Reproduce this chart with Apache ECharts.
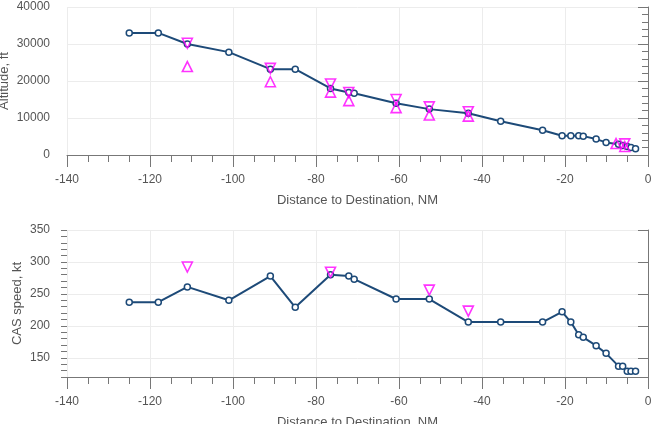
<!DOCTYPE html>
<html>
<head>
<meta charset="utf-8">
<script src="https://cdn.jsdelivr.net/npm/echarts@6/dist/echarts.min.js"></script>
<style>
html, body { margin: 0; padding: 0; background: #fff; }
#chart { width: 657px; height: 424px; }
</style>
</head>
<body>
<div id="chart"></div>
<script>
// distance to destination (NM) for each track point
var distNM = [-125, -118, -111, -101, -91, -85, -76.5, -72.1, -70.8, -60.7, -52.7, -43.3, -35.5,
	-25.4, -20.7, -18.6, -16.7, -15.6, -12.5, -10.1, -7.1, -6.1, -5.0, -4.1, -3.0];
var altitudeFt = [33000, 33000, 30000, 27800, 23200, 23200, 18000, 16900, 16700, 14000, 12400, 11300, 9100,
	6700, 5200, 5200, 5200, 5100, 4300, 3400, 2900, 2600, 2300, 2000, 1700];
var casKt = [237, 237, 261, 240, 278, 229, 280, 278, 273, 242, 242, 206, 206,
	206, 222, 206, 186, 182, 169, 157, 137, 137, 129, 129, 129];

// altitude constraints: "at or below" (down triangle) / "at or above" (up triangle)
var altBelow = [[-111, 30200], [-91, 23400], [-76.5, 19200], [-72.1, 16900], [-60.7, 15000],
	[-52.7, 13000], [-43.3, 11700], [-5.6, 3000]];
var altAbove = [[-111, 23900], [-91, 19800], [-76.5, 17000], [-72.1, 14700], [-60.7, 12800],
	[-52.7, 10800], [-43.3, 10500], [-7.7, 3100], [-5.6, 2300]];
// speed constraints
var spdBelow = [[-111, 292], [-76.5, 284], [-52.7, 256], [-43.3, 223]];

var speedTicks = [150, 200, 250, 300, 350];

var lineColor = '#1d4a78';
var magenta = '#ff00ff';
var txt = '#555';
var font = 'Liberation Sans, Arial, sans-serif';

function pairs(xs, ys) {
	var out = [];
	for (var i = 0; i < xs.length; i++) out.push([xs[i], ys[i]]);
	return out;
}

function xAxisCfg(gridIndex) {
	return {
		gridIndex: gridIndex,
		type: 'value',
		min: -140, max: 0, interval: 20,
		name: 'Distance to Destination, NM',
		nameLocation: 'middle',
		nameGap: 39,
		nameMoveOverlap: false,
		nameTextStyle: { color: txt, fontSize: 13, fontFamily: font },
		axisLine: { onZero: false, lineStyle: { color: '#777', width: 1 } },
		axisTick: { inside: false, length: 12, lineStyle: { color: '#777' } },
		minorTick: { show: true, splitNumber: 4, length: 7, lineStyle: { color: '#777' } },
		axisLabel: { color: txt, fontSize: 12, fontFamily: font, margin: 19 },
		splitLine: { show: true, lineStyle: { color: '#ececec' } }
	};
}

var chart = echarts.init(document.getElementById('chart'));
chart.setOption({
	animation: false,
	backgroundColor: '#fff',
	grid: [
		{ left: 67, right: 9, top: 7, height: 148, outerBoundsMode: 'none', containLabel: false },
		{ left: 67, right: 9, top: 230, height: 147, outerBoundsMode: 'none', containLabel: false }
	],
	xAxis: [xAxisCfg(0), xAxisCfg(1)],
	yAxis: [
		{
			gridIndex: 0,
			type: 'value',
			position: 'left',
			min: 0, max: 40000, interval: 10000,
			name: 'Altitude, ft',
			nameLocation: 'middle',
			nameGap: 56,
			nameMoveOverlap: false,
			nameTextStyle: { color: txt, fontSize: 13, fontFamily: font },
			axisLine: { show: true, lineStyle: { color: '#777' } },
			axisTick: { show: true, length: 10, lineStyle: { color: '#777' } },
			minorTick: { show: true, splitNumber: 5, length: 6, lineStyle: { color: '#777' } },
			axisLabel: { color: txt, fontSize: 12, fontFamily: font, margin: 17,
				formatter: function (v) { return String(v); } },
			splitLine: { show: true, lineStyle: { color: '#ececec' } }
		},
		{
			// CAS axis: major ticks, labels and grid lines
			gridIndex: 1,
			type: 'value',
			position: 'left',
			min: 120, max: 350,
			name: 'CAS speed, kt',
			nameLocation: 'middle',
			nameGap: 43,
			nameMoveOverlap: false,
			nameTextStyle: { color: txt, fontSize: 13, fontFamily: font },
			axisLine: { show: true, lineStyle: { color: '#777' } },
			axisTick: { show: true, length: 10, customValues: speedTicks, lineStyle: { color: '#777' } },
			axisLabel: { color: txt, fontSize: 12, fontFamily: font, margin: 17, customValues: speedTicks },
			splitLine: { show: true, lineStyle: { color: '#ececec' } }
		},
		{
			// same scale, only the short ticks every 10 kt
			gridIndex: 1,
			type: 'value',
			position: 'left',
			offset: 0,
			min: 120, max: 350, interval: 10,
			axisLine: { show: false },
			axisTick: { show: true, length: 6, lineStyle: { color: '#777' } },
			axisLabel: { show: false },
			splitLine: { show: false }
		}
	],
	series: [
		{
			name: 'Altitude',
			type: 'line',
			xAxisIndex: 0, yAxisIndex: 0,
			data: pairs(distNM, altitudeFt),
			symbol: 'circle', symbolSize: 6,
			lineStyle: { color: lineColor, width: 2 },
			itemStyle: { color: '#fff', borderColor: lineColor, borderWidth: 1.5 },
			z: 3
		},
		{
			name: 'Alt at or below',
			type: 'scatter',
			xAxisIndex: 0, yAxisIndex: 0,
			data: altBelow,
			symbol: 'triangle', symbolRotate: 180, symbolSize: 10,
			itemStyle: { color: 'rgba(0,0,0,0)', borderColor: magenta, borderWidth: 1.6 },
			z: 4
		},
		{
			name: 'Alt at or above',
			type: 'scatter',
			xAxisIndex: 0, yAxisIndex: 0,
			data: altAbove,
			symbol: 'triangle', symbolSize: 10,
			itemStyle: { color: 'rgba(0,0,0,0)', borderColor: magenta, borderWidth: 1.6 },
			z: 4
		},
		{
			name: 'CAS',
			type: 'line',
			xAxisIndex: 1, yAxisIndex: 1,
			data: pairs(distNM, casKt),
			symbol: 'circle', symbolSize: 6,
			lineStyle: { color: lineColor, width: 2 },
			itemStyle: { color: '#fff', borderColor: lineColor, borderWidth: 1.5 },
			z: 3
		},
		{
			name: 'CAS at or below',
			type: 'scatter',
			xAxisIndex: 1, yAxisIndex: 1,
			data: spdBelow,
			symbol: 'triangle', symbolRotate: 180, symbolSize: 10,
			itemStyle: { color: 'rgba(0,0,0,0)', borderColor: magenta, borderWidth: 1.6 },
			z: 4
		}
	]
});
</script>
</body>
</html>
